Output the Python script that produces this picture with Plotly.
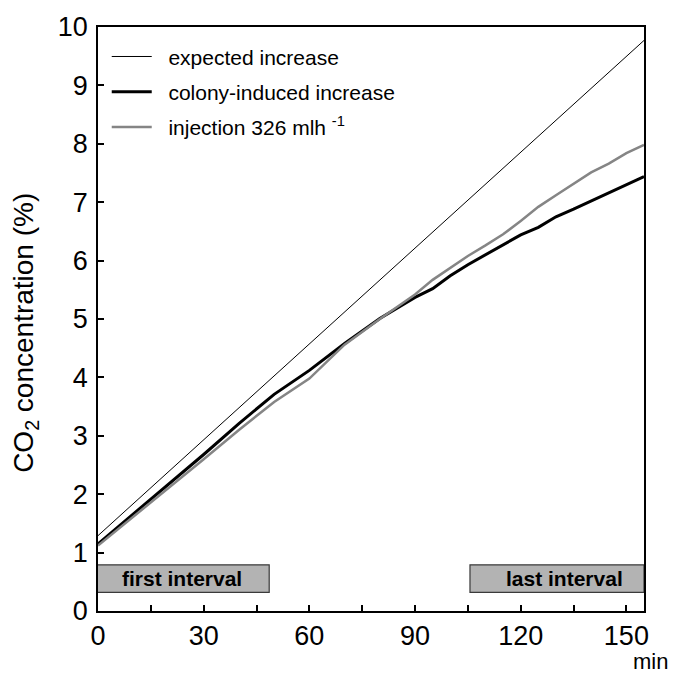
import plotly.graph_objects as go

# ---- data ----
time_expected = [0, 155]
co2_expected = [1.29, 9.77]

time_colony = [0, 10, 20, 30, 40, 50, 60, 70, 80, 90, 95, 100, 105, 110, 115, 120,
               125, 130, 135, 140, 145, 150, 155]
co2_colony = [1.15, 1.66, 2.17, 2.68, 3.21, 3.71, 4.12, 4.58, 5.01, 5.37, 5.52, 5.74,
              5.93, 6.10, 6.27, 6.44, 6.57, 6.75, 6.88, 7.02, 7.16, 7.30, 7.44]

time_injection = [0, 10, 20, 30, 40, 50, 60, 70, 80, 90, 95, 100, 105, 110, 115, 120,
                  125, 130, 135, 140, 145, 150, 155]
co2_injection = [1.12, 1.61, 2.10, 2.60, 3.10, 3.58, 3.98, 4.56, 5.00, 5.42, 5.67, 5.88,
                 6.08, 6.26, 6.45, 6.68, 6.92, 7.12, 7.32, 7.51, 7.66, 7.84, 7.98]

interval_labels = ["first interval", "last interval"]
interval_start = [-0.5, 105.6]
interval_end = [48.6, 155]
interval_label_x = [23.8, 132.4]
interval_low = 0.32
interval_high = 0.79

x_tickvals = [0, 30, 60, 90, 120, 150]
y_tickvals = list(range(0, 11))

FONT = "Liberation Sans, Arial, sans-serif"
NB = "\u00a0"

fig = go.Figure()
fig.add_trace(go.Scatter(x=time_expected, y=co2_expected, mode="lines",
                         name=NB * 2 + "expected increase", legendgroup="a",
                         line=dict(color="black", width=1)))
fig.add_trace(go.Scatter(x=time_colony, y=co2_colony, mode="lines",
                         name=NB * 2 + "colony-induced increase", legendgroup="b",
                         line=dict(color="black", width=3)))
fig.add_trace(go.Scatter(x=time_injection, y=co2_injection, mode="lines",
                         name=NB * 2 + "injection 326 mlh <sup>-1</sup>", legendgroup="c",
                         line=dict(color="#858585", width=2.5)))

for lab, x0, x1, xl in zip(interval_labels, interval_start, interval_end, interval_label_x):
    fig.add_shape(type="rect", xref="x", yref="y", x0=x0, x1=x1,
                  y0=interval_low, y1=interval_high,
                  fillcolor="#b3b3b3", line=dict(color="#3a3a3a", width=1.2), layer="above")
    fig.add_annotation(x=xl, y=(interval_low + interval_high) / 2, xref="x", yref="y",
                       text="<b>%s</b>" % lab, showarrow=False,
                       font=dict(family=FONT, size=21, color="black"))

fig.add_annotation(x=1.011, y=-0.087, xref="paper", yref="paper", text="min",
                   showarrow=False, font=dict(family=FONT, size=22, color="black"),
                   xanchor="center", yanchor="middle", borderpad=0)

# y-axis title as a rotated annotation
fig.add_annotation(x=-0.134, y=0.476, xref="paper", yref="paper",
                   text="CO<sub>2</sub> concentration (%)", textangle=-90,
                   showarrow=False, xanchor="center", yanchor="middle",
                   font=dict(family=FONT, size=28, color="black"))

fig.update_layout(
    width=678, height=677,
    margin=dict(l=98, r=34, t=24, b=66),
    paper_bgcolor="white", plot_bgcolor="white",
    font=dict(family=FONT, color="black"),
    showlegend=True,
    legend=dict(x=0.016, y=0.984, xanchor="left", yanchor="top",
                bgcolor="rgba(0,0,0,0)", font=dict(family=FONT, size=21, color="black"),
                tracegroupgap=5, itemwidth=40),
    xaxis=dict(range=[0, 155], tickvals=x_tickvals, ticks="inside", ticklen=6,
               tickwidth=1.5, tickcolor="black",
               minor=dict(dtick=15, tick0=0, ticks="inside", ticklen=6, tickwidth=1.5,
                          tickcolor="black"),
               showline=True, linecolor="black", linewidth=1.5, mirror=True,
               showgrid=False, zeroline=False,
               tickfont=dict(family=FONT, size=27, color="black")),
    yaxis=dict(range=[0, 10], tickvals=y_tickvals, ticks="inside", ticklen=6,
               tickwidth=1.5, tickcolor="black",
               showline=True, linecolor="black", linewidth=1.5, mirror=True,
               showgrid=False, zeroline=False, ticklabelstandoff=3,
               tickfont=dict(family=FONT, size=27, color="black")),
)

fig.write_html("out.html", config={"displayModeBar": False},
               post_script="document.body.style.margin='0';")
